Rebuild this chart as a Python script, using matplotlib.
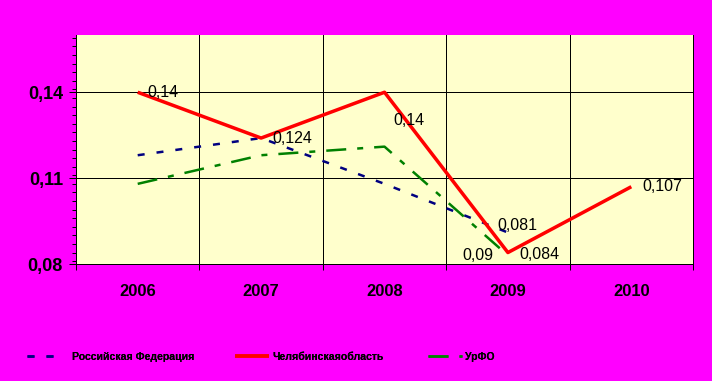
import matplotlib.pyplot as plt
from matplotlib.ticker import FixedLocator, MultipleLocator, FuncFormatter

years = ["2006", "2007", "2008", "2009", "2010"]
rf = [0.118, 0.124, 0.108, 0.091]
chel = [0.14, 0.124, 0.14, 0.084, 0.107]
urfo = [0.108, 0.118, 0.121, 0.083]
chel_labels = ["0,14", "0,124", "0,14", "0,084", "0,107"]
rf_end_label = "0,081"
urfo_end_label = "0,09"

plt.rcParams['font.family'] = ['Liberation Sans', 'DejaVu Sans']

fig = plt.figure(figsize=(712 / 72, 381 / 72), dpi=72, facecolor="#FF00FF")
ax = fig.add_axes([76 / 712, 1 - 264 / 381, (693 - 76) / 712, (264 - 35) / 381])
ax.set_facecolor("#FFFFCC")

x = list(range(len(years)))
l_rf, = ax.plot(x[:len(rf)], rf, color="#000080", lw=2.5, dashes=(2.8, 4.8),
                label="Российская Федерация")
l_ch, = ax.plot(x, chel, color="#FF0000", lw=3.5, solid_capstyle="butt",
                label="Челябинскаяобласть")
l_ur, = ax.plot(x[:len(urfo)], urfo, color="#008000", lw=2.5,
                dashes=(8, 4.4, 2.4, 4.4), label="УрФО")

ax.set_xlim(-0.5, 4.5)
ax.set_ylim(0.08, 0.16)

ax.yaxis.set_major_locator(FixedLocator([0.08, 0.11, 0.14]))
ax.yaxis.set_minor_locator(MultipleLocator(0.003))
ax.yaxis.set_major_formatter(FuncFormatter(lambda v, p: f"{v:.2f}".replace(".", ",")))
ax.tick_params(axis="y", which="major", length=7, width=1, labelsize=18, pad=6)
ax.tick_params(axis="y", which="minor", length=4, width=1)
for t in ax.get_yticklabels():
    t.set_fontweight("bold")

ax.set_xticks(x)
ax.set_xticklabels(years, fontsize=16.5, fontweight="bold")
ax.set_xticks([0.5, 1.5, 2.5, 3.5, 4.5, -0.5], minor=True)
ax.tick_params(axis="x", which="major", length=0, pad=20)
ax.tick_params(axis="x", which="minor", length=6, width=1)

ax.grid(True, axis="y", which="major", color="black", lw=1)
ax.grid(True, axis="x", which="minor", color="black", lw=1)
ax.spines["top"].set_visible(False)
for s in ["left", "bottom", "right"]:
    ax.spines[s].set_linewidth(1)

# data labels
offsets = [(10, 0, "left"), (11, 0, "left"), (9, -28, "left"), (11, -2, "left"), (11, 0, "left")]
for i, (v, lab) in enumerate(zip(chel, chel_labels)):
    dx, dy, ha = offsets[i]
    ax.annotate(lab, (x[i], v), xytext=(dx, dy), textcoords="offset points",
                ha=ha, va="center", fontsize=16)
ax.annotate(rf_end_label, (x[3], rf[3]), xytext=(-11, 7), textcoords="offset points",
            ha="left", va="center", fontsize=16)
ax.annotate(urfo_end_label, (x[3], urfo[3]), xytext=(-15, 0), textcoords="offset points",
            ha="right", va="center", fontsize=16)

# legend, one box per entry
leg_pos = [(27, l_rf, 11), (235, l_ch, 3), (428, l_ur, 3)]
for px, h, tp in leg_pos:
    lg = fig.legend(handles=[h], loc="center left", bbox_to_anchor=(px / 712, 1 - 357 / 381),
                    frameon=False, handlelength=34 / 10.5, handletextpad=tp / 10.5,
                    borderpad=0, borderaxespad=0,
                    prop={"size": 10.5, "weight": "bold"})
    fig.add_artist(lg)

fig.savefig("out.png", dpi=72, facecolor=fig.get_facecolor())
